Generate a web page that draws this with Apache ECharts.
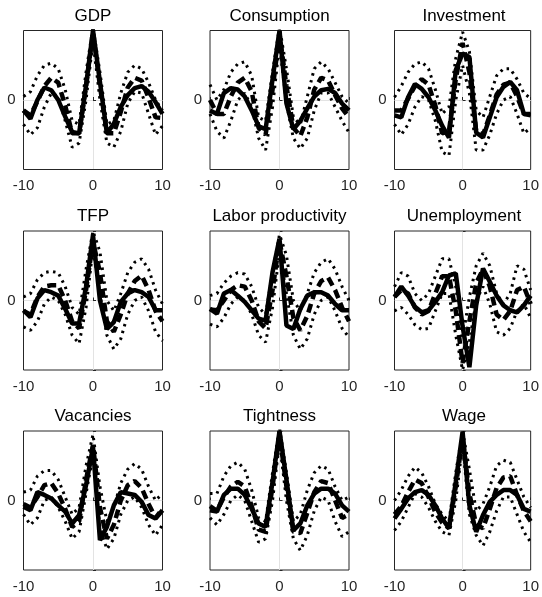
<!DOCTYPE html>
<html>
<head>
<meta charset="utf-8">
<script src="https://cdn.jsdelivr.net/npm/echarts@6/dist/echarts.min.js"></script>
<style>
html,body{margin:0;padding:0;background:#fff;}
#c{width:542px;height:597px;}
</style>
</head>
<body>
<div id="c"></div>
<script>
// ---- data ----
const lags = [-10,-9,-8,-7,-6,-5,-4,-3,-2,-1,0,1,2,3,4,5,6,7,8,9,10];
const titles = ['GDP','Consumption','Investment','TFP','Labor productivity','Unemployment','Vacancies','Tightness','Wage'];
const xTickLabels = ['-10','0','10'];
const yTickLabels = ['0'];

const gdpData  = [-0.15,-0.27,0.0,0.18,0.14,0.0,-0.24,-0.46,-0.48,0.21,1.0,0.26,-0.48,-0.34,-0.1,0.07,0.17,0.2,0.12,-0.03,-0.2];
const gdpModel = [-0.15,-0.22,-0.02,0.2,0.32,0.25,-0.08,-0.48,-0.48,0.2,0.98,0.2,-0.48,-0.48,-0.17,0.18,0.32,0.28,0.03,-0.25,-0.26];
const gdpUpper = [0.05,0.12,0.35,0.5,0.53,0.45,0.15,-0.3,-0.35,0.4,1.05,0.4,-0.35,-0.3,0.1,0.4,0.5,0.45,0.25,0.0,-0.15];
const gdpLower = [-0.35,-0.5,-0.4,-0.1,0.1,0.05,-0.3,-0.68,-0.62,0.0,0.85,0.0,-0.62,-0.68,-0.45,-0.05,0.12,0.1,-0.2,-0.5,-0.37];

const conData  = [-0.15,-0.2,0.1,0.17,0.15,0.05,-0.15,-0.38,-0.42,0.3,1.0,-0.05,-0.42,-0.3,-0.12,0.05,0.14,0.16,0.1,-0.05,-0.15];
const conModel = [0.0,-0.2,-0.2,0.05,0.25,0.32,0.12,-0.4,-0.5,0.15,0.95,0.2,-0.4,-0.52,-0.25,0.15,0.32,0.28,0.07,-0.12,-0.25];
const conUpper = [0.22,0.0,0.15,0.4,0.52,0.55,0.35,-0.25,-0.3,0.4,1.05,0.45,-0.25,-0.35,0.05,0.45,0.55,0.45,0.25,0.05,-0.05];
const conLower = [-0.2,-0.45,-0.55,-0.3,0.0,0.1,-0.1,-0.55,-0.72,-0.1,0.8,-0.05,-0.55,-0.7,-0.55,-0.15,0.1,0.1,-0.1,-0.3,-0.47];

const invData  = [-0.22,-0.25,0.04,0.23,0.16,0.04,-0.15,-0.37,-0.54,0.43,0.67,0.62,-0.47,-0.54,-0.25,0.04,0.19,0.26,0.14,-0.2,-0.22];
const invModel = [-0.15,-0.15,0.02,0.2,0.3,0.22,-0.08,-0.48,-0.45,0.3,0.82,0.4,-0.45,-0.5,-0.22,0.08,0.22,0.25,0.05,-0.2,-0.2];
const invUpper = [0.04,0.2,0.4,0.52,0.55,0.45,0.15,-0.2,-0.1,0.6,0.98,0.7,-0.15,-0.25,0.05,0.35,0.45,0.45,0.3,0.1,0.02];
const invLower = [-0.35,-0.5,-0.35,-0.1,0.05,0.0,-0.3,-0.75,-0.8,0.0,0.5,0.1,-0.72,-0.72,-0.5,-0.2,0.0,0.05,-0.2,-0.48,-0.4];

const tfpData  = [-0.14,-0.24,0.03,0.15,0.12,0.07,-0.12,-0.33,-0.33,0.2,0.94,0.0,-0.41,-0.31,-0.02,0.1,0.15,0.12,0.05,-0.14,-0.14];
const tfpModel = [-0.15,-0.2,0.05,0.2,0.22,0.22,0.0,-0.3,-0.4,0.15,0.85,0.4,-0.3,-0.45,-0.2,0.1,0.28,0.36,0.15,-0.15,-0.3];
const tfpUpper = [0.05,0.1,0.3,0.4,0.42,0.4,0.2,-0.1,-0.2,0.45,1.0,0.7,0.0,-0.15,0.1,0.4,0.55,0.6,0.45,0.15,-0.05];
const tfpLower = [-0.38,-0.43,-0.3,-0.05,0.05,0.0,-0.2,-0.5,-0.62,-0.1,0.75,0.1,-0.5,-0.7,-0.55,-0.2,0.0,0.05,-0.15,-0.45,-0.58];

const lpData  = [-0.12,-0.19,0.1,0.15,0.07,-0.02,-0.14,-0.26,-0.29,0.41,0.89,-0.36,-0.41,-0.12,0.07,0.12,0.12,0.07,-0.05,-0.14,-0.14];
const lpModel = [-0.13,-0.14,0.0,0.15,0.22,0.2,0.0,-0.3,-0.4,0.15,0.85,0.35,-0.25,-0.43,-0.22,0.1,0.28,0.33,0.15,-0.1,-0.3];
const lpUpper = [0.07,0.1,0.25,0.35,0.4,0.38,0.2,-0.1,-0.2,0.4,0.95,0.65,0.0,-0.15,0.1,0.4,0.55,0.6,0.45,0.2,0.0];
const lpLower = [-0.34,-0.38,-0.25,-0.05,0.05,0.0,-0.2,-0.5,-0.6,-0.1,0.7,0.1,-0.5,-0.7,-0.55,-0.2,0.0,0.05,-0.15,-0.4,-0.53];

const unData  = [0.05,0.2,0.07,-0.09,-0.17,-0.14,-0.02,0.12,0.36,0.39,-0.37,-0.96,-0.07,0.46,0.27,0.07,-0.07,-0.14,-0.17,-0.07,0.07];
const unModel = [0.05,0.15,0.1,-0.1,-0.2,-0.15,0.1,0.35,0.35,-0.15,-0.9,-0.3,0.25,0.45,0.2,-0.2,-0.28,-0.15,0.15,0.2,-0.05];
const unUpper = [0.2,0.4,0.35,0.1,0.0,0.1,0.35,0.6,0.6,0.2,-0.55,0.05,0.5,0.68,0.5,0.1,-0.05,0.1,0.5,0.45,0.15];
const unLower = [-0.15,-0.1,-0.2,-0.35,-0.42,-0.4,-0.15,0.1,0.1,-0.5,-1.0,-0.6,0.0,0.2,-0.05,-0.45,-0.5,-0.4,-0.15,-0.05,-0.25];

const vacData  = [-0.09,-0.14,0.12,0.08,0.03,-0.07,-0.16,-0.33,-0.21,0.22,0.77,-0.57,-0.38,-0.07,0.12,0.1,0.08,-0.02,-0.21,-0.26,-0.14];
const vacModel = [-0.05,-0.1,0.05,0.22,0.25,0.1,-0.12,-0.38,-0.3,0.3,0.8,-0.1,-0.55,-0.35,0.0,0.22,0.28,0.18,-0.05,-0.25,-0.12];
const vacUpper = [0.12,0.15,0.35,0.43,0.43,0.3,0.05,-0.2,-0.1,0.5,0.95,0.2,-0.3,-0.1,0.25,0.45,0.53,0.45,0.2,0.0,0.1];
const vacLower = [-0.2,-0.35,-0.25,0.0,0.05,-0.1,-0.3,-0.55,-0.45,0.1,0.65,-0.4,-0.7,-0.55,-0.2,0.0,0.05,-0.1,-0.35,-0.5,-0.35];

const tiData  = [-0.14,-0.16,0.08,0.17,0.17,0.08,-0.12,-0.33,-0.38,0.27,1.0,0.3,-0.43,-0.33,-0.07,0.1,0.17,0.17,0.1,-0.07,-0.16];
const tiModel = [-0.08,-0.15,0.05,0.2,0.27,0.2,-0.08,-0.42,-0.45,0.2,0.95,0.2,-0.45,-0.47,-0.18,0.12,0.28,0.25,0.0,-0.25,-0.2];
const tiUpper = [0.1,0.1,0.35,0.5,0.55,0.45,0.15,-0.25,-0.3,0.4,1.05,0.4,-0.3,-0.2,0.15,0.4,0.5,0.45,0.2,0.0,0.05];
const tiLower = [-0.25,-0.35,-0.2,0.0,0.08,0.0,-0.3,-0.6,-0.55,0.0,0.85,0.0,-0.55,-0.72,-0.5,-0.15,0.05,0.0,-0.3,-0.52,-0.45];

const wgData  = [-0.26,-0.12,0.03,0.12,0.15,0.08,-0.07,-0.26,-0.4,0.27,0.99,-0.07,-0.45,-0.21,-0.02,0.08,0.15,0.15,0.08,-0.12,-0.16];
const wgModel = [-0.2,-0.08,0.12,0.3,0.25,0.05,-0.17,-0.32,-0.4,0.2,0.9,0.1,-0.35,-0.4,-0.12,0.18,0.33,0.35,0.08,-0.15,-0.3];
const wgUpper = [0.0,0.15,0.35,0.48,0.4,0.2,-0.05,-0.2,-0.3,0.4,1.0,0.45,-0.15,-0.05,0.2,0.5,0.58,0.55,0.3,0.05,-0.1];
const wgLower = [-0.43,-0.3,-0.1,0.1,0.05,-0.1,-0.3,-0.45,-0.5,0.0,0.8,-0.2,-0.5,-0.65,-0.45,-0.15,0.05,0.05,-0.2,-0.45,-0.6];

// ---- build ----
const panels = [
  [gdpData, gdpModel, gdpUpper, gdpLower],
  [conData, conModel, conUpper, conLower],
  [invData, invModel, invUpper, invLower],
  [tfpData, tfpModel, tfpUpper, tfpLower],
  [lpData, lpModel, lpUpper, lpLower],
  [unData, unModel, unUpper, unLower],
  [vacData, vacModel, vacUpper, vacLower],
  [tiData, tiModel, tiUpper, tiLower],
  [wgData, wgModel, wgUpper, wgLower]
];

const colLeft = [23.5, 210, 394.5];
const rowTop = [30.5, 231, 431];
const W = 139, H = 139;
const FONT = '"Liberation Sans", Arial, Helvetica, sans-serif';
const axisColor = '#262626';

const pairs = arr => lags.map((x, i) => [x, arr[i]]);

const grid = [], xAxis = [], yAxis = [], series = [], title = [];
panels.forEach((p, i) => {
  const r = Math.floor(i / 3), c = i % 3;
  grid.push({left: colLeft[c], top: rowTop[r], width: W, height: H,
    show: true, borderColor: axisColor, borderWidth: 1, backgroundColor: 'transparent', containLabel: false});
  title.push({text: titles[i], left: colLeft[c] + W / 2, top: rowTop[r] - 23, textAlign: 'center', padding: 0,
    textStyle: {fontFamily: FONT, fontSize: 17, fontWeight: 'normal', color: '#000'}});
  xAxis.push({gridIndex: i, type: 'value', min: -10, max: 10, interval: 10,
    axisLine: {show: false},
    axisTick: {show: true, inside: true, length: 3, lineStyle: {color: axisColor}},
    axisLabel: {fontFamily: FONT, fontSize: 15, color: axisColor, margin: 9,
      formatter: v => xTickLabels.indexOf(String(v)) >= 0 ? String(v) : ''},
    splitLine: {show: true, showMinLine: false, showMaxLine: false, lineStyle: {color: '#e3e3e3', width: 1}}});
  yAxis.push({gridIndex: i, type: 'value', min: -1, max: 1, interval: 1,
    axisLine: {show: false},
    axisTick: {show: true, inside: true, length: 3, lineStyle: {color: axisColor}},
    axisLabel: {fontFamily: FONT, fontSize: 15, color: axisColor, margin: 8,
      formatter: v => yTickLabels.indexOf(String(v)) >= 0 ? String(v) : ''},
    splitLine: {show: true, showMinLine: false, showMaxLine: false, lineStyle: {color: '#e3e3e3', width: 1}}});
  const [d, m, up, lo] = p;
  const base = {type: 'line', xAxisIndex: i, yAxisIndex: i, symbol: 'none', showSymbol: false,
    animation: false, silent: true, clip: true};
  series.push(Object.assign({}, base, {data: pairs(up), z: 2,
    lineStyle: {color: '#000', width: 3, type: [2.5, 4.5], cap: 'butt'}}));
  series.push(Object.assign({}, base, {data: pairs(lo), z: 2,
    lineStyle: {color: '#000', width: 3, type: [2.5, 4.5], cap: 'butt'}}));
  series.push(Object.assign({}, base, {data: pairs(m), z: 3,
    lineStyle: {color: '#000', width: 4.5, type: [9, 5]}}));
  series.push(Object.assign({}, base, {data: pairs(d), z: 4,
    lineStyle: {color: '#000', width: 4.5, type: 'solid'}}));
});

const chart = echarts.init(document.getElementById('c'), null, {renderer: 'canvas'});
chart.setOption({animation: false, backgroundColor: '#fff', title, grid, xAxis, yAxis, series});
</script>
</body>
</html>
